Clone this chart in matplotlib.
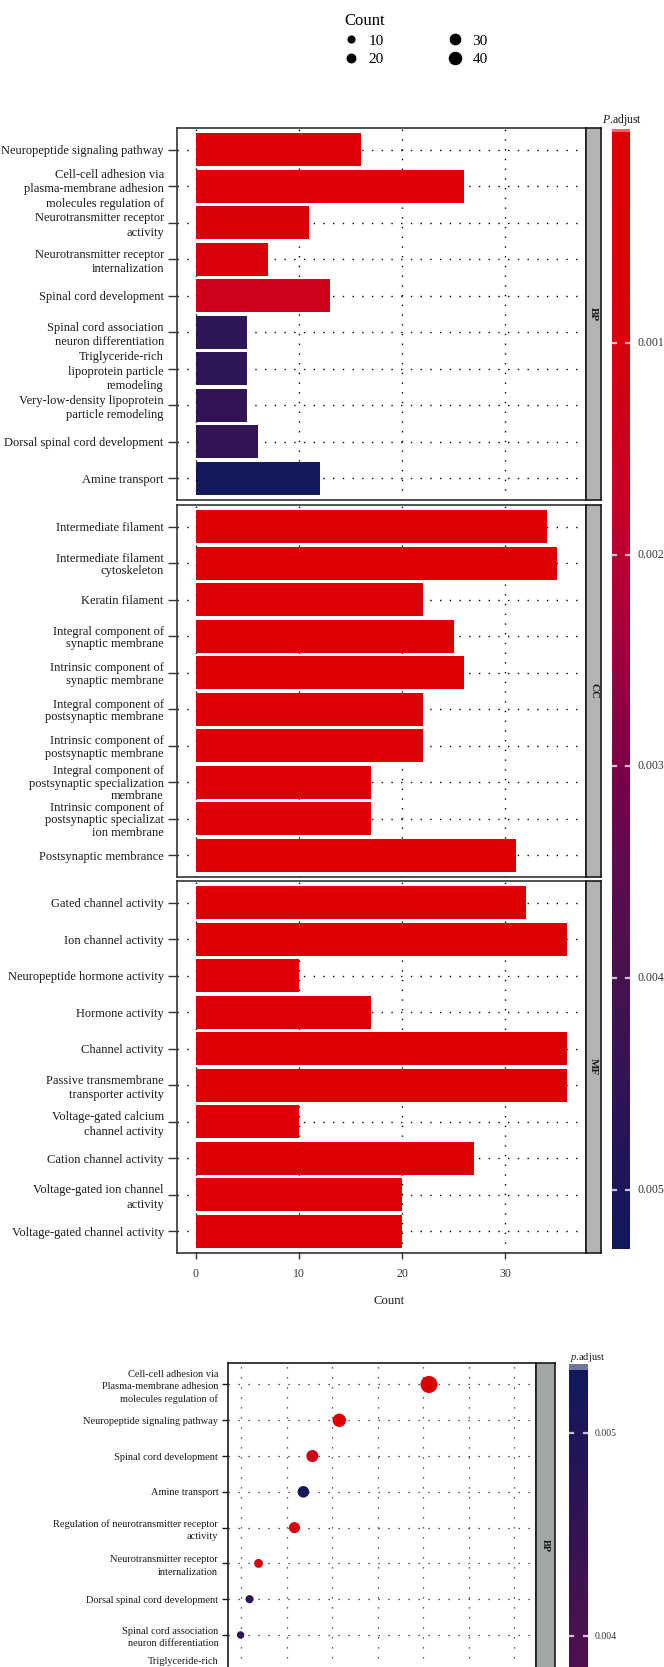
import numpy as np
import matplotlib
matplotlib.use("Agg")
import matplotlib.pyplot as plt
from matplotlib.colors import LinearSegmentedColormap, Normalize
from matplotlib.lines import Line2D
from matplotlib.patches import Rectangle

plt.rcParams['font.family'] = ['Liberation Serif', 'DejaVu Serif']
plt.rcParams['mathtext.fontset'] = 'custom'
plt.rcParams['mathtext.rm'] = 'Liberation Serif'
plt.rcParams['mathtext.it'] = 'Liberation Serif:italic'

# ---- bar chart data (GO enrichment) ----
bp_terms = ["Neuropeptide signaling pathway",
            "Cell-cell adhesion via\nplasma-membrane adhesion\nmolecules regulation of",
            "Neurotransmitter receptor\nactivity",
            "Neurotransmitter receptor\ninternalization",
            "Spinal cord development",
            "Spinal cord association\nneuron differentiation",
            "Triglyceride-rich\nlipoprotein particle\nremodeling",
            "Very-low-density lipoprotein\nparticle remodeling",
            "Dorsal spinal cord development",
            "Amine transport"]
bp_counts = [16, 26, 11, 7, 13, 5, 5, 5, 6, 12]
bp_padj = [0.0003, 0.0003, 0.0005, 0.0009, 0.0014, 0.0046, 0.0046, 0.0045, 0.0045, 0.0052]

cc_terms = ["Intermediate filament",
            "Intermediate filament\ncytoskeleton",
            "Keratin filament",
            "Integral component of\nsynaptic membrane",
            "Intrinsic component of\nsynaptic membrane",
            "Integral component of\npostsynaptic membrane",
            "Intrinsic component of\npostsynaptic membrane",
            "Integral component of\npostsynaptic specialization\nmembrane",
            "Intrinsic component of\npostsynaptic specializat\nion membrane",
            "Postsynaptic membrance"]
cc_counts = [34, 35, 22, 25, 26, 22, 22, 17, 17, 31]
cc_padj = [0.0002, 0.0002, 0.0003, 0.0002, 0.0002, 0.0003, 0.0003, 0.0003, 0.0003, 0.0002]

mf_terms = ["Gated channel activity",
            "Ion channel activity",
            "Neuropeptide hormone activity",
            "Hormone activity",
            "Channel activity",
            "Passive transmembrane\ntransporter activity",
            "Voltage-gated calcium\nchannel activity",
            "Cation channel activity",
            "Voltage-gated ion channel\nactivity",
            "Voltage-gated channel activity"]
mf_counts = [32, 36, 10, 17, 36, 36, 10, 27, 20, 20]
mf_padj = [0.0002, 0.0002, 0.0003, 0.0003, 0.0002, 0.0002, 0.0003, 0.0002, 0.0003, 0.0003]

bar_padj_limits = (-0.00001, 0.00528)
bar_cbar_ticks = [0.001, 0.002, 0.003, 0.004, 0.005]

# ---- dot plot data (BP panel) ----
dot_terms = ["Cell-cell adhesion via\nPlasma-membrane adhesion\nmolecules regulation of",
             "Neuropeptide signaling pathway",
             "Spinal cord development",
             "Amine transport",
             "Regulation of neurotransmitter receptor\nactivity",
             "Neurotransmitter receptor\ninternalization",
             "Dorsal spinal cord development",
             "Spinal cord association\nneuron differentiation",
             "Triglyceride-rich\nlipoprotein particle\nremodeling",
             "Very-low-density lipoprotein\nparticle remodeling"]
dot_counts = [26, 16, 13, 12, 11, 7, 6, 5, 5, 5]
dot_padj = [0.0003, 0.0003, 0.0014, 0.0052, 0.0005, 0.0009, 0.0045, 0.0046, 0.0046, 0.0045]
dot_total_genes = 507
dot_padj_limits = (0.00002, 0.00534)
dot_cbar_ticks = [0.004, 0.005]
dot_ratio_breaks = [0.01, 0.02, 0.03, 0.04, 0.05, 0.06, 0.07]

legend_counts = [10, 20, 30, 40]

# ---- layout ----
W, H = 664, 1667
fig = plt.figure(figsize=(W / 100, H / 100), dpi=100)
fig.patch.set_facecolor('white')


def px_box(x0, y0, x1, y1):
    return [x0 / W, 1 - y1 / H, (x1 - x0) / W, (y1 - y0) / H]


cmap = LinearSegmentedColormap.from_list(
    'padj', [(0.0, '#DE0000'), (0.19, '#D8000C'), (0.34, '#C40028'),
             (0.38, '#B80032'), (0.57, '#7C0048'), (0.66, '#5E0C50'),
             (0.76, '#48124F'), (0.95, '#1B175A'), (1.0, '#0F1A5C')])
bar_norm = Normalize(*bar_padj_limits)
dot_norm = Normalize(*dot_padj_limits)
text_col = '#1a1a1a'
dotted = (0, (1, 6))


def draw_colorbar(box, norm, ticks, low_on_top, label_x, fs, cap_px, total_px):
    cax = fig.add_axes(box)
    grad = np.linspace(norm.vmin, norm.vmax, 400).reshape(-1, 1)
    cax.imshow(grad, aspect='auto', cmap=cmap, norm=norm, origin='lower',
               extent=[0, 1, norm.vmin, norm.vmax], interpolation='bilinear')
    cax.set_xlim(0, 1)
    if low_on_top:
        cax.set_ylim(norm.vmax, norm.vmin)
        cap_color = cmap(0.0)
    else:
        cax.set_ylim(norm.vmin, norm.vmax)
        cap_color = cmap(1.0)
    light = tuple(0.6 * np.array(cap_color[:3]) + 0.4)
    cax.add_patch(Rectangle((0, 1 - cap_px / total_px), 1, cap_px / total_px,
                            transform=cax.transAxes, color=light, lw=0))
    for t in ticks:
        cax.plot([0, 0.2], [t, t], color='white', lw=1.6, alpha=0.75)
        cax.plot([0.8, 1], [t, t], color='white', lw=1.6, alpha=0.75)
        cax.text(label_x, t, f'{t:.3f}', va='center', ha='left', fontsize=fs,
                 color='#333333', clip_on=False)
    cax.axis('off')
    return cax


# ---- bar chart panels ----
panels = [("BP", bp_terms, bp_counts, bp_padj, 128, 1.3),
          ("CC", cc_terms, cc_counts, cc_padj, 505, 1.05),
          ("MF", mf_terms, mf_counts, mf_padj, 881, 1.3)]
panel_h = 372
for i, (name, terms, counts, padj, top, lsp) in enumerate(panels):
    ax = fig.add_axes(px_box(177, top, 586, top + panel_h))
    rows = np.arange(1, len(terms) + 1)
    ax.barh(rows, counts, height=0.9, color=cmap(bar_norm(np.array(padj))), zorder=2)
    ax.set_ylim(len(terms) + 0.6, 0.4)
    ax.set_xlim(-1.8, 37.8)
    ax.set_xticks([0, 10, 20, 30])
    ax.set_yticks(rows)
    ax.set_yticklabels(terms, fontsize=9, color=text_col, linespacing=lsp)
    ax.set_axisbelow(True)
    ax.grid(True, ls=dotted, color='black', lw=1.0)
    ax.tick_params(axis='y', length=6.5, width=1.0, pad=3, color='#333333')
    if i < 2:
        ax.tick_params(axis='x', bottom=False, labelbottom=False)
    else:
        ax.tick_params(axis='x', length=4.5, width=1.0, pad=6, labelsize=8.5,
                       labelcolor='#333333', color='#333333')
    for sp in ax.spines.values():
        sp.set_color('#333333')
        sp.set_linewidth(1.2)
    sax = fig.add_axes(px_box(586, top, 601, top + panel_h))
    sax.set_facecolor('#B3B3B3')
    sax.set_xticks([])
    sax.set_yticks([])
    for sp in sax.spines.values():
        sp.set_color('#1a1a1a')
        sp.set_linewidth(1.2)
    sax.text(0.5, 0.5, name, rotation=-90, ha='center', va='center',
             fontsize=8, fontweight='bold', color=text_col, transform=sax.transAxes)

fig.text(389 / W, 1 - 1301 / H, 'Count', ha='center', va='center', fontsize=9.2, color=text_col)
fig.text(602 / W, 1 - 120 / H, r'$\mathit{P}$.adjust', ha='left', va='center', fontsize=8.4, color=text_col)
draw_colorbar(px_box(612, 129, 630, 1249), bar_norm, bar_cbar_ticks, True, 1.39, 8.5, 3, 1120)

# ---- Count size legend ----
handles = [Line2D([], [], ls='', marker='o', color='black',
                  markersize=(4.9 + 0.18 * c) * 0.72) for c in legend_counts]
fig.legend(handles, [str(c) for c in legend_counts], ncol=2, title='Count',
           loc='upper left', bbox_to_anchor=(344 / W, 1 - 13 / H), frameon=False,
           fontsize=11, title_fontsize=12, alignment='left', handlelength=0.9,
           handletextpad=0.7, columnspacing=4.2, labelspacing=0.32,
           borderpad=0, borderaxespad=0)

# ---- dot plot (cut off at bottom of the figure) ----
dax = fig.add_axes(px_box(228, 1363, 536, 1728))
drows = np.arange(1, len(dot_terms) + 1)
ratio = np.array(dot_counts) / dot_total_genes
dax.scatter(ratio, drows, s=5.8 * np.array(dot_counts), c=dot_padj, cmap=cmap,
            norm=dot_norm, edgecolors='none', zorder=3)
dax.set_xlim(0.0071, 0.0748)
dax.set_ylim(len(dot_terms) + 0.6, 0.4)
dax.set_xticks(dot_ratio_breaks)
dax.set_yticks(drows)
dax.set_yticklabels(dot_terms, fontsize=7.5, color=text_col, linespacing=1.45)
dax.set_axisbelow(True)
dax.grid(True, ls=(0, (1, 7)), color='#222222', lw=0.9)
dax.tick_params(axis='y', length=4.5, width=1.0, pad=2.5, color='#1a1a1a')
dax.tick_params(axis='x', bottom=False, labelbottom=False)
for sp in dax.spines.values():
    sp.set_color('#1a1a1a')
    sp.set_linewidth(1.2)
dsax = fig.add_axes(px_box(536, 1363, 555, 1728))
dsax.set_facecolor('#A3A6A6')
dsax.set_xticks([])
dsax.set_yticks([])
for sp in dsax.spines.values():
    sp.set_color('#1a1a1a')
    sp.set_linewidth(1.2)
dsax.text(0.5, 0.5, 'BP', rotation=-90, ha='center', va='center', fontsize=7.5,
          fontweight='bold', color=text_col, transform=dsax.transAxes)

fig.text(570 / W, 1 - 1357 / H, r'$\mathit{p}$.adjust', ha='left', va='center', fontsize=7.5, color=text_col)
draw_colorbar(px_box(569, 1364, 588, 2444), dot_norm, dot_cbar_ticks, False, 1.37, 7, 6, 1080)

fig.savefig('out.png', dpi=100)
